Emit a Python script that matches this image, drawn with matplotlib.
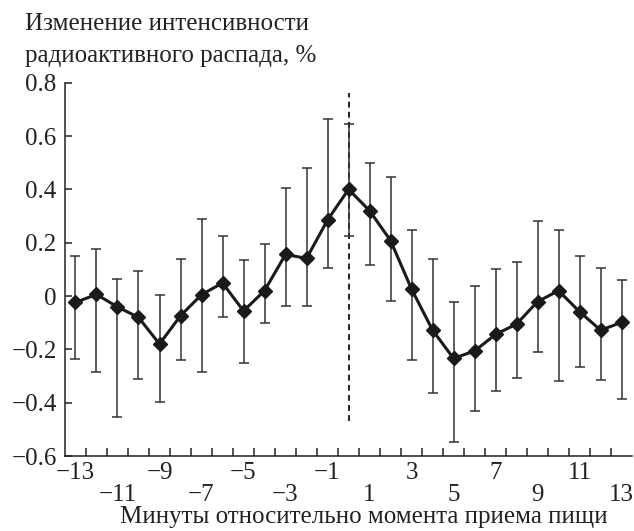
import numpy as np
import matplotlib.pyplot as plt

plt.rcParams['font.family'] = ['Liberation Serif', 'DejaVu Serif']
plt.rcParams['axes.unicode_minus'] = True

# минуты относительно приема пищи
minutes = np.arange(-13, 14)

# изменение интенсивности, %
values = np.array([
    -0.024, 0.006, -0.041, -0.080, -0.180, -0.074, 0.005, 0.049, -0.056,
    0.020, 0.156, 0.141, 0.285, 0.400, 0.320, 0.208, 0.026, -0.128,
    -0.234, -0.206, -0.144, -0.105, -0.021, 0.020, -0.059, -0.128, -0.099
])
# верхние и нижние концы "усов"
upper = np.array([
    0.149, 0.178, 0.064, 0.095, 0.003, 0.139, 0.290, 0.226, 0.135,
    0.195, 0.405, 0.481, 0.664, 0.644, 0.498, 0.446, 0.246, 0.138,
    -0.024, 0.038, 0.103, 0.129, 0.281, 0.248, 0.151, 0.105, 0.060
])
lower = np.array([
    -0.236, -0.286, -0.453, -0.311, -0.398, -0.240, -0.286, -0.079, -0.250,
    -0.100, -0.036, -0.036, 0.104, 0.225, 0.115, -0.019, -0.240, -0.365,
    -0.546, -0.430, -0.356, -0.309, -0.209, -0.320, -0.268, -0.314, -0.388
])

y_ticks = [0.8, 0.6, 0.4, 0.2, 0, -0.2, -0.4, -0.6]
y_labels = ['0.8', '0.6', '0.4', '0.2', '0', '\u22120.2', '\u22120.4', '\u22120.6']
x_top = [-13, -9, -5, -1, 3, 7, 11]
x_bottom = [-11, -7, -3, 1, 5, 9, 13]

FS = 18
TXT = '#222222'

fig = plt.figure(figsize=(6.34, 5.31), dpi=100)
ax = fig.add_axes([0.1025, 0.1412, 0.8945, 0.7031])

# вертикальная линия - момент приема пищи
ax.plot([0, 0], [-0.47, 0.76], color=TXT, lw=1.4, ls=(0, (3, 2.2)), zorder=1)

yerr = np.vstack([values - lower, upper - values])
ax.errorbar(minutes, values, yerr=yerr, fmt='none', ecolor='#333333',
            elinewidth=1.1, capsize=3.5, capthick=1.1, zorder=2)
ax.plot(minutes, values, color='#1a1a1a', lw=2.2, marker='D', ms=7.5,
        markerfacecolor='#1a1a1a', markeredgecolor='#1a1a1a', zorder=3)

ax.set_xlim(-13.5, 13.5)
ax.set_ylim(-0.6, 0.8)

ax.spines['top'].set_visible(False)
ax.spines['right'].set_visible(False)
for s in ['left', 'bottom']:
    ax.spines[s].set_linewidth(1.1)
    ax.spines[s].set_color(TXT)

ax.set_yticks(y_ticks)
ax.set_yticklabels(y_labels)
ax.tick_params(axis='y', direction='in', length=5, width=1.1, pad=6,
               labelsize=FS, colors=TXT)

# деления между категориями
ax.set_xticks(np.arange(-12.5, 13.5, 1.0))
ax.set_xticklabels([])
ax.tick_params(axis='x', direction='in', length=6, width=1.1, colors=TXT)

# подписи в два ряда
tr = ax.get_xaxis_transform()
for v in x_top:
    ax.text(v, -0.0616, f'{v}'.replace('-', '\u2212'), transform=tr,
            ha='center', va='baseline', fontsize=FS, color=TXT)
for v in x_bottom:
    ax.text(v, -0.1205, f'{v}'.replace('-', '\u2212'), transform=tr,
            ha='center', va='baseline', fontsize=FS, color=TXT)

fig.text(25 / 634, 1 - 30 / 531, 'Изменение интенсивности',
         ha='left', va='baseline', fontsize=FS, color=TXT)
fig.text(25 / 634, 1 - 62 / 531, 'радиоактивного распада, %',
         ha='left', va='baseline', fontsize=FS, color=TXT)
fig.text(364 / 634, 1 - 523 / 531, 'Минуты относительно момента приема пищи',
         ha='center', va='baseline', fontsize=FS, color=TXT)

plt.savefig('out.png', dpi=100)
